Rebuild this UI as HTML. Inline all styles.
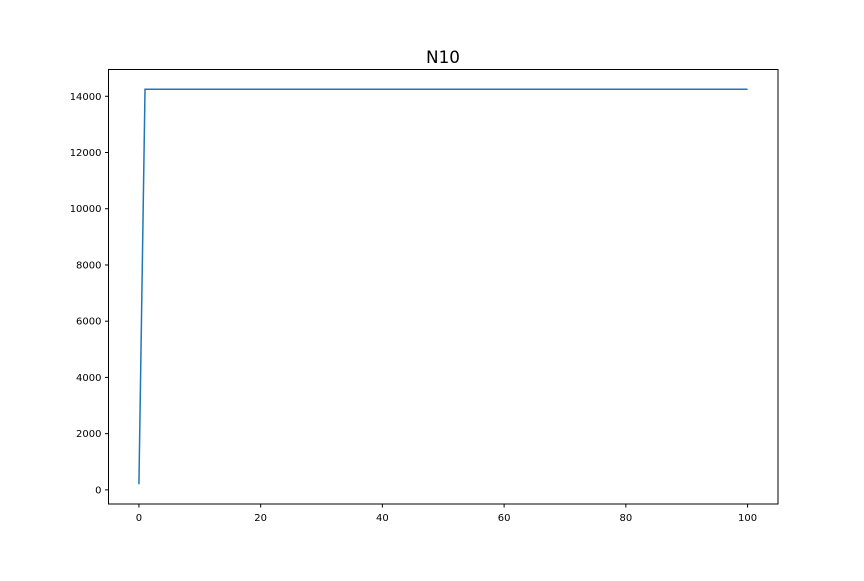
<!DOCTYPE html>
<html><head><meta charset="utf-8"><style>
body{margin:0;background:#fff;}
svg text{font-family:"DejaVu Sans","Liberation Sans",sans-serif;fill:#000;}
</style></head><body>
<svg id="chart" width="864" height="576" xmlns="http://www.w3.org/2000/svg">
<rect width="864" height="576" fill="#fff"/>
<text x="443" y="63" font-size="16.8" text-anchor="middle">N10</text>
<g id="ticks"></g>
<path id="line" fill="none" stroke="#1f77b4" stroke-width="1.5"/>
<rect x="108.5" y="69.5" width="669.5" height="434.5" fill="none" stroke="#000" stroke-width="1"/>
</svg>
<script>
const xValues = [0, 1, 100];
const yValues = [200, 14250, 14250];
const xTicks = [0, 20, 40, 60, 80, 100];
const yTicks = [0, 2000, 4000, 6000, 8000, 10000, 12000, 14000];

const L=108.5,R=778,T=69.5,B=504;
const xmin=-5,xmax=105;
const ymin=-502.5,ymax=14952.5;
const sx=v=>L+(v-xmin)/(xmax-xmin)*(R-L);
const sy=v=>B-(v-ymin)/(ymax-ymin)*(B-T);
const NS="http://www.w3.org/2000/svg";
const g=document.getElementById('ticks');
function mk(tag,attrs){const e=document.createElementNS(NS,tag);for(const k in attrs)e.setAttribute(k,attrs[k]);g.appendChild(e);return e;}
xTicks.forEach(t=>{
  const x=sx(t);
  const l=mk('line',{x1:x,x2:x,y1:B,y2:B+3.5,stroke:'#000'});
  
  
  const tx=mk('text',{x:x,y:B+17,'font-size':'10','text-anchor':'middle'});
  tx.textContent=t;
  
  
});
yTicks.forEach(t=>{
  const y=sy(t);
  const l=mk('line',{x1:L-3.5,x2:L,y1:y,y2:y,stroke:'#000'});
  
  
  const tx=mk('text',{x:L-7,y:y+3.5,'font-size':'10','text-anchor':'end'});
  tx.textContent=t;
  
  
});
document.getElementById('line').setAttribute('d',xValues.map((x,i)=>(i?'L':'M')+sx(x).toFixed(2)+' '+sy(yValues[i]).toFixed(2)).join(' '));
</script>
</body></html>
